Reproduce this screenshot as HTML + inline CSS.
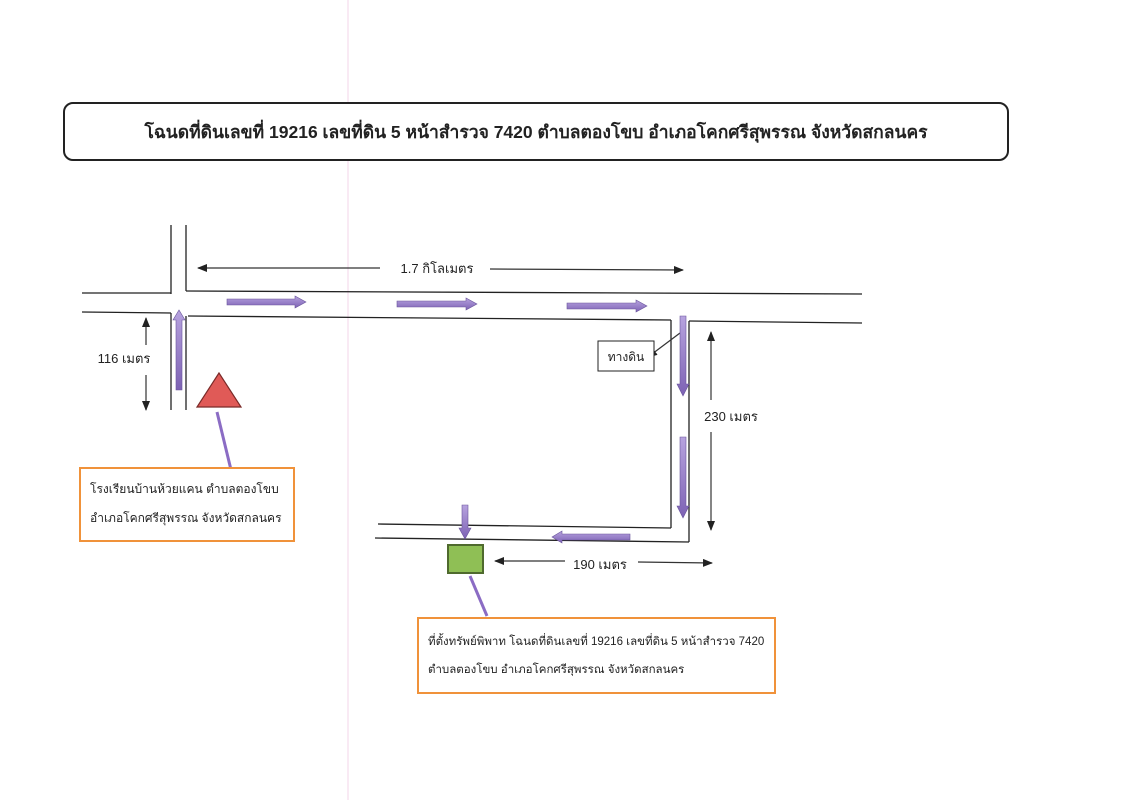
<!DOCTYPE html>
<html><head><meta charset="utf-8"><style>
body{margin:0;background:#fff;width:1132px;height:800px;overflow:hidden}
svg text{font-family:"Liberation Sans","DejaVu Sans",sans-serif;fill:#222}
</style></head><body>
<svg width="1132" height="800" viewBox="0 0 1132 800" xmlns="http://www.w3.org/2000/svg">
<defs>
<marker id="ah" markerWidth="10" markerHeight="8" refX="9" refY="4" orient="auto" markerUnits="userSpaceOnUse"><path d="M0,0 L10,4 L0,8 Z" fill="#222"/></marker>
<linearGradient id="pg" x1="0" y1="0" x2="0" y2="1"><stop offset="0" stop-color="#b7a3df"/><stop offset="1" stop-color="#7d62b4"/></linearGradient>
</defs>
<line x1="348" y1="0" x2="348" y2="800" stroke="#f3d6ea" stroke-width="1"/>
<rect x="64" y="103" width="944" height="57" rx="9" fill="#fff" stroke="#222" stroke-width="2"/>
<text x="536" y="138" font-size="17.5" font-weight="bold" text-anchor="middle">โฉนดที่ดินเลขที่ 19216 เลขที่ดิน 5 หน้าสำรวจ 7420 ตำบลตองโขบ อำเภอโคกศรีสุพรรณ จังหวัดสกลนคร</text>
<g stroke="#222" stroke-width="1.3" fill="none">
<line x1="171" y1="225" x2="171" y2="294"/><line x1="186" y1="225" x2="186" y2="291"/>
<line x1="171" y1="313" x2="171" y2="410"/><line x1="186" y1="316" x2="186" y2="410"/>
<line x1="82" y1="293" x2="171" y2="293"/><line x1="186" y1="291" x2="862" y2="294"/>
<line x1="82" y1="312" x2="171" y2="313"/><line x1="188" y1="316" x2="671" y2="320"/>
<line x1="689" y1="321" x2="862" y2="323"/>
<line x1="671" y1="320" x2="671" y2="528"/><line x1="689" y1="321" x2="689" y2="542"/>
<line x1="378" y1="524" x2="671" y2="528"/><line x1="375" y1="538" x2="689" y2="542"/>
</g>
<g stroke="#333" stroke-width="1.2" marker-end="url(#ah)">
<line x1="380" y1="268" x2="198" y2="268"/><line x1="490" y1="269" x2="683" y2="270"/>
<line x1="146" y1="345" x2="146" y2="318"/><line x1="146" y1="375" x2="146" y2="410"/>
<line x1="711" y1="400" x2="711" y2="332"/><line x1="711" y1="432" x2="711" y2="530"/>
<line x1="565" y1="561" x2="495" y2="561"/><line x1="638" y1="562" x2="712" y2="563"/>
<line x1="680" y1="333" x2="648" y2="357"/>
</g>
<text x="437" y="273" font-size="13" text-anchor="middle">1.7 กิโลเมตร</text>
<text x="124" y="363" font-size="13" text-anchor="middle">116 เมตร</text>
<text x="731" y="421" font-size="13" text-anchor="middle">230 เมตร</text>
<text x="600" y="569" font-size="13" text-anchor="middle">190 เมตร</text>
<rect x="598" y="341" width="56" height="30" fill="#fff" stroke="#222" stroke-width="1"/>
<text x="626" y="361" font-size="12" text-anchor="middle">ทางดิน</text>
<g fill="url(#pg)" stroke="#6a559c" stroke-width="0.6">
<path d="M227,299 H295 V296 L306,302 L295,308 V305 H227 Z"/>
<path d="M397,301 H466 V298 L477,304 L466,310 V307 H397 Z"/>
<path d="M567,303 H636 V300 L647,306 L636,312 V309 H567 Z"/>
<path d="M176,390 V320 H173 L179,310 L185,320 H182 V390 Z"/>
<path d="M680,316 V384 H677 L683,396 L689,384 H686 V316 Z"/>
<path d="M680,437 V506 H677 L683,518 L689,506 H686 V437 Z"/>
<path d="M630,534 H562 V531 L552,537 L562,543 V540 H630 Z"/>
<path d="M462,505 V528 H459 L465,539 L471,528 H468 V505 Z"/>
</g>
<polygon points="219,373 197,407 241,407" fill="#e05a57" stroke="#7a2a28" stroke-width="1.2"/>
<line x1="217" y1="412" x2="232" y2="474" stroke="#8b6cc4" stroke-width="3"/>
<rect x="448" y="545" width="35" height="28" fill="#8fbf55" stroke="#4f6a2e" stroke-width="2"/>
<line x1="470" y1="576" x2="487" y2="616" stroke="#8b6cc4" stroke-width="3"/>
<rect x="80" y="468" width="214" height="73" fill="#fff" stroke="#f0923a" stroke-width="2"/>
<text x="90" y="493" font-size="12">โรงเรียนบ้านห้วยแคน ตำบลตองโขบ</text>
<text x="90" y="522" font-size="12">อำเภอโคกศรีสุพรรณ จังหวัดสกลนคร</text>
<rect x="418" y="618" width="357" height="75" fill="#fff" stroke="#f0923a" stroke-width="2"/>
<text x="428" y="645" font-size="11.5">ที่ตั้งทรัพย์พิพาท โฉนดที่ดินเลขที่ 19216 เลขที่ดิน 5 หน้าสำรวจ 7420</text>
<text x="428" y="673" font-size="11.5">ตำบลตองโขบ อำเภอโคกศรีสุพรรณ จังหวัดสกลนคร</text>
</svg>
</body></html>
